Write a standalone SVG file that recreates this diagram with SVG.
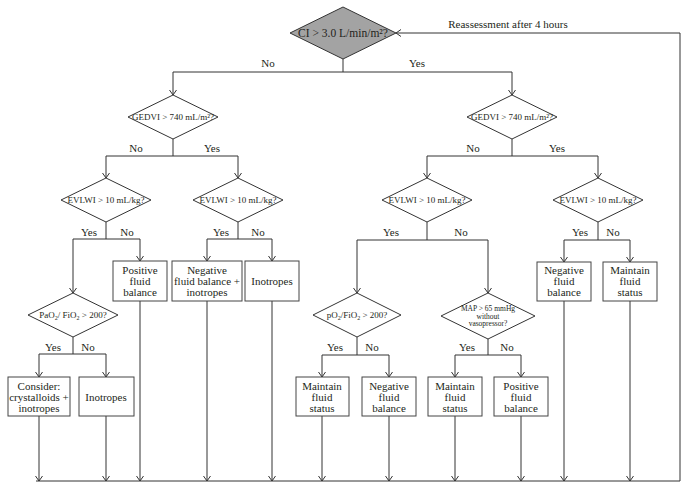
<svg xmlns="http://www.w3.org/2000/svg" width="688" height="489" viewBox="0 0 688 489">
<style>
text{font-family:"Liberation Serif","Times New Roman",serif;fill:#231f20;text-anchor:middle}
.box{fill:#fff;stroke:#444;stroke-width:1}
.dia{fill:#fff;stroke:#333;stroke-width:1}
.main{fill:#a3a3a3;stroke:#333;stroke-width:1}
.t{font-size:11px}
.d{font-size:9px}
.s{font-size:7.5px}
.lbl{font-size:11px}
.c line,.c polyline{stroke:#333;stroke-width:1;fill:none}
.a{marker-end:url(#arr)}
</style>
<defs>
<marker id="arr" viewBox="-6 -4 7 8" refX="0" refY="0" markerWidth="7" markerHeight="8" markerUnits="userSpaceOnUse" orient="auto">
<path d="M-5,-3.5 L0,0 L-5,3.5" fill="none" stroke="#333" stroke-width="1"/>
</marker>
</defs>
<rect width="688" height="489" fill="#fff"/>

<g class="c" id="connectors">
<line x1="343" y1="59" x2="343" y2="72"/>
<line x1="173" y1="72" x2="512" y2="72"/>
<line class="a" x1="173" y1="72" x2="173" y2="95"/>
<line class="a" x1="512" y1="72" x2="512" y2="95"/>

<line x1="173" y1="139" x2="173" y2="156"/>
<line x1="106" y1="156" x2="238" y2="156"/>
<line class="a" x1="106" y1="156" x2="106" y2="178"/>
<line class="a" x1="238" y1="156" x2="238" y2="178"/>
<line x1="512" y1="139" x2="512" y2="156"/>
<line x1="427" y1="156" x2="598" y2="156"/>
<line class="a" x1="427" y1="156" x2="427" y2="178"/>
<line class="a" x1="598" y1="156" x2="598" y2="178"/>

<line x1="106" y1="222" x2="106" y2="239"/>
<line x1="73" y1="239" x2="140" y2="239"/>
<line class="a" x1="73" y1="239" x2="73" y2="293"/>
<line class="a" x1="140" y1="239" x2="140" y2="261"/>
<line x1="238" y1="222" x2="238" y2="239"/>
<line x1="207" y1="239" x2="272" y2="239"/>
<line class="a" x1="207" y1="239" x2="207" y2="261"/>
<line class="a" x1="272" y1="239" x2="272" y2="261"/>
<line x1="427" y1="222" x2="427" y2="240"/>
<line x1="357" y1="240" x2="488" y2="240"/>
<line class="a" x1="357" y1="240" x2="357" y2="293"/>
<line class="a" x1="488" y1="240" x2="488" y2="293"/>
<line x1="598" y1="222" x2="598" y2="240"/>
<line x1="564" y1="240" x2="630" y2="240"/>
<line class="a" x1="564" y1="240" x2="564" y2="262"/>
<line class="a" x1="630" y1="240" x2="630" y2="262"/>

<line x1="73" y1="337" x2="73" y2="354"/>
<line x1="39" y1="354" x2="106" y2="354"/>
<line class="a" x1="39" y1="354" x2="39" y2="377"/>
<line class="a" x1="106" y1="354" x2="106" y2="377"/>
<line x1="357" y1="337" x2="357" y2="355"/>
<line x1="322" y1="355" x2="389" y2="355"/>
<line class="a" x1="322" y1="355" x2="322" y2="377"/>
<line class="a" x1="389" y1="355" x2="389" y2="377"/>
<line x1="488" y1="339" x2="488" y2="355"/>
<line x1="455" y1="355" x2="521" y2="355"/>
<line class="a" x1="455" y1="355" x2="455" y2="377"/>
<line class="a" x1="521" y1="355" x2="521" y2="377"/>

<line class="a" x1="39" y1="416" x2="39" y2="481"/>
<line class="a" x1="106" y1="416" x2="106" y2="481"/>
<line class="a" x1="140" y1="301" x2="140" y2="481"/>
<line class="a" x1="207" y1="301" x2="207" y2="481"/>
<line class="a" x1="272" y1="301" x2="272" y2="481"/>
<line class="a" x1="322" y1="416" x2="322" y2="481"/>
<line class="a" x1="389" y1="416" x2="389" y2="481"/>
<line class="a" x1="455" y1="416" x2="455" y2="481"/>
<line class="a" x1="521" y1="416" x2="521" y2="481"/>
<line class="a" x1="564" y1="301" x2="564" y2="481"/>
<line class="a" x1="630" y1="301" x2="630" y2="481"/>
<polyline class="a" points="36,481 680,481 680,33 396,33"/>

<text class="lbl" x="508" y="28">Reassessment after 4 hours</text>
<text class="lbl" x="268" y="67">No</text>
<text class="lbl" x="417" y="67">Yes</text>
<text class="lbl" x="136" y="152">No</text>
<text class="lbl" x="212" y="152">Yes</text>
<text class="lbl" x="473" y="152">No</text>
<text class="lbl" x="557" y="152">Yes</text>
<text class="lbl" x="89" y="236">Yes</text>
<text class="lbl" x="127" y="236">No</text>
<text class="lbl" x="221" y="236">Yes</text>
<text class="lbl" x="258" y="236">No</text>
<text class="lbl" x="391" y="236">Yes</text>
<text class="lbl" x="461" y="236">No</text>
<text class="lbl" x="580" y="236">Yes</text>
<text class="lbl" x="613" y="236">No</text>
<text class="lbl" x="53" y="351">Yes</text>
<text class="lbl" x="88" y="351">No</text>
<text class="lbl" x="335" y="351">Yes</text>
<text class="lbl" x="372" y="351">No</text>
<text class="lbl" x="467" y="351">Yes</text>
<text class="lbl" x="507" y="351">No</text>
</g>

<g id="n-ci">
<polygon class="main" points="343,7 396,33 343,59 290,33"/>
<text x="343" y="37" style="font-size:11.5px">CI &gt; 3.0 L/min/m²?</text>
</g>
<g id="n-gedvi-l">
<polygon class="dia" points="173,95 218,117 173,139 128,117"/>
<text class="d" x="173" y="120">GEDVI &gt; 740 mL/m²?</text>
</g>
<g id="n-gedvi-r">
<polygon class="dia" points="512,95 557,117 512,139 467,117"/>
<text class="d" x="512" y="120">GEDVI &gt; 740 mL/m²?</text>
</g>
<g id="n-evlwi-1">
<polygon class="dia" points="106,178 151,200 106,222 61,200"/>
<text class="d" x="106" y="203">EVLWI &gt; 10 mL/kg?</text>
</g>
<g id="n-evlwi-2">
<polygon class="dia" points="238,178 283,200 238,222 193,200"/>
<text class="d" x="238" y="203">EVLWI &gt; 10 mL/kg?</text>
</g>
<g id="n-evlwi-3">
<polygon class="dia" points="427,178 472,200 427,222 382,200"/>
<text class="d" x="427" y="203">EVLWI &gt; 10 mL/kg?</text>
</g>
<g id="n-evlwi-4">
<polygon class="dia" points="598,178 643,200 598,222 553,200"/>
<text class="d" x="598" y="203">EVLWI &gt; 10 mL/kg?</text>
</g>

<g id="n-pos1">
<rect class="box" x="113" y="261" width="54" height="40"/>
<text class="t" x="140" y="274">Positive</text>
<text class="t" x="140" y="285">fluid</text>
<text class="t" x="140" y="296">balance</text>
</g>
<g id="n-neginot">
<rect class="box" x="172" y="261" width="70" height="40"/>
<text class="t" x="207" y="274">Negative</text>
<text class="t" x="207" y="285">fluid balance +</text>
<text class="t" x="207" y="296">inotropes</text>
</g>
<g id="n-inot1">
<rect class="box" x="245" y="261" width="54" height="40"/>
<text class="t" x="272" y="285">Inotropes</text>
</g>
<g id="n-neg1">
<rect class="box" x="537" y="262" width="54" height="39"/>
<text class="t" x="564" y="274">Negative</text>
<text class="t" x="564" y="285">fluid</text>
<text class="t" x="564" y="296">balance</text>
</g>
<g id="n-maint1">
<rect class="box" x="603" y="262" width="54" height="39"/>
<text class="t" x="630" y="274">Maintain</text>
<text class="t" x="630" y="285">fluid</text>
<text class="t" x="630" y="296">status</text>
</g>

<g id="n-pao2">
<polygon class="dia" points="73,293 118,315 73,337 28,315"/>
<text class="d" x="73" y="318">PaO<tspan dy="2" style="font-size:6px">2</tspan><tspan dy="-2">/ FiO</tspan><tspan dy="2" style="font-size:6px">2</tspan><tspan dy="-2"> &gt; 200?</tspan></text>
</g>
<g id="n-po2">
<polygon class="dia" points="357,293 401,315 357,337 313,315"/>
<text class="d" x="357" y="318">pO<tspan dy="2" style="font-size:6px">2</tspan><tspan dy="-2">/FiO</tspan><tspan dy="2" style="font-size:6px">2</tspan><tspan dy="-2"> &gt; 200?</tspan></text>
</g>
<g id="n-map">
<polygon class="dia" points="488,293 535,316 488,339 441,316"/>
<text class="s" x="488" y="311">MAP &gt; 65 mmHg</text>
<text class="s" x="488" y="318.5">without</text>
<text class="s" x="488" y="326">vasopressor?</text>
</g>

<g id="n-consider">
<rect class="box" x="8" y="377" width="62" height="39"/>
<text class="t" x="39" y="389.5">Consider:</text>
<text class="t" x="39" y="400.5">crystalloids +</text>
<text class="t" x="39" y="411.5">inotropes</text>
</g>
<g id="n-inot2">
<rect class="box" x="79" y="377" width="55" height="39"/>
<text class="t" x="106" y="400.5">Inotropes</text>
</g>
<g id="n-maint2">
<rect class="box" x="296" y="377" width="53" height="39"/>
<text class="t" x="322" y="389.5">Maintain</text>
<text class="t" x="322" y="400.5">fluid</text>
<text class="t" x="322" y="411.5">status</text>
</g>
<g id="n-neg2">
<rect class="box" x="362" y="377" width="54" height="39"/>
<text class="t" x="389" y="389.5">Negative</text>
<text class="t" x="389" y="400.5">fluid</text>
<text class="t" x="389" y="411.5">balance</text>
</g>
<g id="n-maint3">
<rect class="box" x="428" y="377" width="54" height="39"/>
<text class="t" x="455" y="389.5">Maintain</text>
<text class="t" x="455" y="400.5">fluid</text>
<text class="t" x="455" y="411.5">status</text>
</g>
<g id="n-pos2">
<rect class="box" x="494" y="377" width="54" height="39"/>
<text class="t" x="521" y="389.5">Positive</text>
<text class="t" x="521" y="400.5">fluid</text>
<text class="t" x="521" y="411.5">balance</text>
</g>
</svg>
